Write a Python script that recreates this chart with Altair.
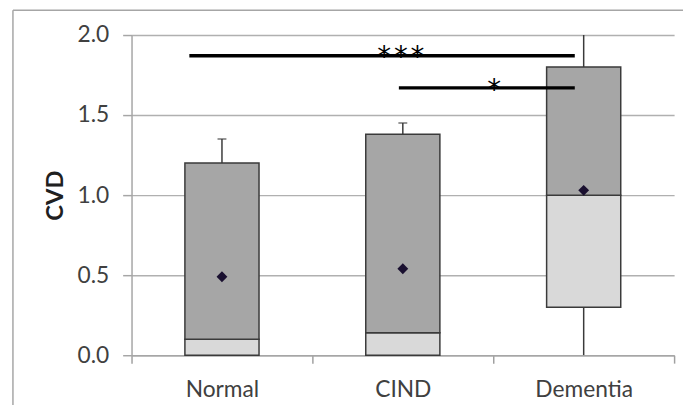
import altair as alt
import pandas as pd

categories = ["Normal", "CIND", "Dementia"]
q1 = [0.0, 0.0, 0.30]
median = [0.10, 0.14, 1.00]
q3 = [1.20, 1.38, 1.80]
whisker_hi = [1.35, 1.45, 2.20]
whisker_lo = [0.0, 0.0, 0.0]
mean = [0.49, 0.54, 1.03]

# significance brackets: (from, to, height, label)
sig_from = ["Normal", "CIND"]
sig_to = ["Dementia", "Dementia"]
sig_y = [1.87, 1.67]
sig_label = ["***", "*"]

df = pd.DataFrame({
    "cat": categories, "q1": q1, "median": median, "q3": q3,
    "hi": whisker_hi, "lo": whisker_lo, "mean": mean,
})
sig = pd.DataFrame({"a": sig_from, "b": sig_to, "y": sig_y, "label": sig_label})

FONT = "Lato"
TXT = "#404040"
EDGE = "#3a3a3a"
FRAME = "#a6a6a6"

xscale = alt.Scale(domain=categories, paddingInner=0, paddingOuter=0)
xenc = alt.X("cat:N", scale=xscale, title=None,
             axis=alt.Axis(ticks=True, tickBand="extent", tickSize=8, tickColor="#a0a0a0",
                           tickWidth=1.5, tickExtra=True))
yscale = alt.Scale(domain=[0, 2], nice=False)
yenc = alt.Y("q1:Q", scale=yscale, title="CVD",
             axis=alt.Axis(values=[0, 0.5, 1.0, 1.5, 2.0], format=".1f"))

base = alt.Chart(df)
one = base.transform_filter("datum.cat == 'Normal'")

frame_left = one.mark_rule(color=FRAME, strokeWidth=1.5, clip=False).encode(
    x=alt.value(-120), y=alt.value(-25), y2=alt.value(420)
)
frame_top = one.mark_rule(color=FRAME, strokeWidth=1.5, clip=False).encode(
    x=alt.value(-120), x2=alt.value(600), y=alt.value(-25)
)

lower = base.mark_bar(size=75, color="#d9d9d9", stroke=EDGE, strokeWidth=1.5).encode(
    x=xenc, y=yenc, y2="median:Q"
)
upper = base.mark_bar(size=75, color="#a6a6a6", stroke=EDGE, strokeWidth=1.5).encode(
    x=xenc, y=alt.Y("median:Q", scale=yscale), y2="q3:Q"
)
wh_up = base.mark_rule(color=EDGE, strokeWidth=1.5, clip=True).encode(
    x=xenc, y=alt.Y("q3:Q", scale=yscale), y2="hi:Q"
)
cap = base.mark_tick(color=EDGE, thickness=1.5, size=9, clip=True).encode(
    x=xenc, y=alt.Y("hi:Q", scale=yscale)
)
wh_lo = base.mark_rule(color=EDGE, strokeWidth=1.5, clip=True).encode(
    x=xenc, y=alt.Y("lo:Q", scale=yscale), y2="q1:Q"
)
means = base.mark_point(shape="diamond", filled=True, size=120, color="#1a1030", opacity=1).encode(
    x=xenc, y=alt.Y("mean:Q", scale=yscale)
)

sigbase = alt.Chart(sig)
line1 = sigbase.mark_rule(color="black", strokeWidth=3.5, xOffset=-33, x2Offset=-9).encode(
    x=alt.X("a:N", scale=xscale), x2="b:N", y=alt.Y("y:Q", scale=yscale)
).transform_filter("datum.label == '***'")
line2 = sigbase.mark_rule(color="black", strokeWidth=3.5, xOffset=-4, x2Offset=-9).encode(
    x=alt.X("a:N", scale=xscale), x2="b:N", y=alt.Y("y:Q", scale=yscale)
).transform_filter("datum.label == '*'")
star1 = sigbase.mark_text(font="DejaVu Sans", fontSize=28, color="black", baseline="alphabetic",
                          xOffset=-2, dy=10).encode(
    x=alt.X("a:N", scale=xscale), y=alt.Y("y:Q", scale=yscale), text="disp:N"
).transform_filter("datum.label == '***'").transform_calculate(
    a="'CIND'", disp="join(split(datum.label, ''), '\u200a')")
star2 = sigbase.mark_text(font="DejaVu Sans", fontSize=28, color="black", baseline="alphabetic",
                          xOffset=92.5, dy=11).encode(
    x=alt.X("a:N", scale=xscale), y=alt.Y("y:Q", scale=yscale), text="label:N"
).transform_filter("datum.label == '*'")

chart = alt.layer(
    frame_left, frame_top, lower, upper, wh_up, cap, wh_lo, means, line1, line2, star1, star2
).properties(
    width=549, height=324,
    autosize=alt.AutoSizeParams(type="none"),
    padding={"left": 125, "top": 25, "right": 9, "bottom": 48},
).configure_view(stroke=None).configure_axisX(
    domainColor="#a6a6a6", domainWidth=1.5,
    labelAngle=0, labelFont=FONT, labelFontSize=23,
    labelColor=TXT, labelPadding=16, grid=False,
).configure_axisY(
    domainColor="#a6a6a6", domainWidth=1.5, tickColor="#a6a6a6", tickWidth=1.5,
    tickSize=9, labelFont=FONT, labelFontSize=23, labelColor=TXT, labelPadding=14,
    gridColor="#b0b0b0", gridWidth=1.5, titleFont=FONT, titleFontSize=24,
    titleFontWeight="bold", titleColor="#202020", titlePadding=10,
)

chart.save("out.html", embed_options={"renderer": "svg", "actions": False})
